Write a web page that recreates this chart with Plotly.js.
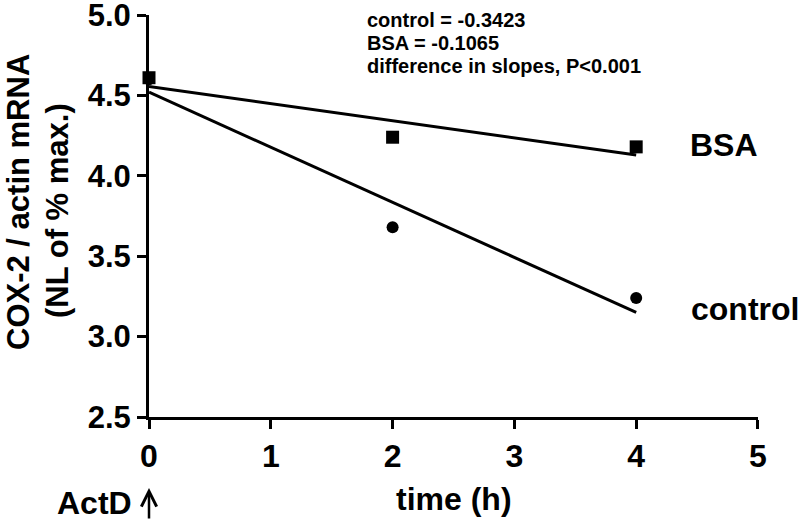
<!DOCTYPE html>
<html><head><meta charset="utf-8">
<script src="https://cdn.plot.ly/plotly-3.0.1.min.js"></script>
<style>body{margin:0;background:#fff}#chart{width:800px;height:520px}</style>
</head><body><div id="chart"></div>
<script>
// Data
const timeH = [0, 2, 4];
const controlValues = [4.60, 3.68, 3.24];
const bsaValues = [4.61, 4.24, 4.18];
const fitX = [0, 4];
const controlFit = [4.52, 3.15];
const bsaFit = [4.555, 4.13];
const xTicks = [0, 1, 2, 3, 4, 5];
const yTicks = [2.5, 3.0, 3.5, 4.0, 4.5, 5.0];
const slopeLines = ["control = -0.3423", "BSA = -0.1065", "difference in slopes, P<0.001"];

const F = "Liberation Sans, Arial, Helvetica, sans-serif";
const bold = (size) => ({size: size, family: F, weight: 700, color: "#000"});
const traces = [
  {x: fitX, y: controlFit, mode: "lines", line: {color: "#000", width: 3}, hoverinfo: "skip", cliponaxis: false},
  {x: fitX, y: bsaFit, mode: "lines", line: {color: "#000", width: 3}, hoverinfo: "skip", cliponaxis: false},
  {x: timeH, y: controlValues, mode: "markers", marker: {symbol: "circle", size: 12, color: "#000"}, cliponaxis: false},
  {x: timeH, y: bsaValues, mode: "markers", marker: {symbol: "square", size: 13, color: "#000"}, cliponaxis: false}
];
// pixel helpers for annotation placement (plot area 149..758 x, 15..417 y)
const TOP = 15, BOT = 417;
const px = (x) => (x - 149) / 609;
const py = (y) => (BOT - y) / (BOT - TOP);
const slopeY = [20, 43, 66];
const annotations = [
  {text: "COX-2 / actin mRNA", textangle: -90, xref: "paper", yref: "paper", x: px(18), y: py(202),
   xanchor: "center", yanchor: "middle", showarrow: false, font: bold(31)},
  {text: "(NL of % max.)", textangle: -90, xref: "paper", yref: "paper", x: px(57), y: py(211),
   xanchor: "center", yanchor: "middle", showarrow: false, font: bold(31)},
  {text: "time (h)", xref: "paper", yref: "paper", x: 0.5, y: py(499),
   xanchor: "center", yanchor: "middle", showarrow: false, font: bold(32)},
  {text: "ActD", xref: "paper", yref: "paper", x: px(134), y: py(503),
   xanchor: "right", yanchor: "middle", showarrow: false, font: bold(32)},
  {text: "", xref: "x", x: 0, yref: "paper", y: py(488), showarrow: true, arrowhead: 5,
   arrowsize: 1.2, arrowwidth: 2.5, arrowcolor: "#000", ax: 0, ay: 34, standoff: 0},
  {text: "BSA", xref: "paper", yref: "paper", x: px(724), y: py(145),
   xanchor: "center", yanchor: "middle", showarrow: false, font: bold(32)},
  {text: "control", xref: "paper", yref: "paper", x: px(745), y: py(309),
   xanchor: "center", yanchor: "middle", showarrow: false, font: bold(32)}
];
slopeLines.forEach((t, i) => annotations.push({
  text: t, xref: "paper", yref: "paper", x: px(365), y: py(slopeY[i]),
  xanchor: "left", yanchor: "middle", align: "left", showarrow: false, font: bold(20)
}));
const layout = {
  width: 800, height: 520,
  margin: {l: 149, r: 42, t: TOP, b: 520 - BOT},
  paper_bgcolor: "#fff", plot_bgcolor: "#fff",
  showlegend: false,
  font: {family: F, color: "#000", weight: 700},
  xaxis: {
    range: [0, 5.0001], tickvals: xTicks, ticktext: xTicks.map(String),
    showgrid: false, zeroline: false, showline: true, linewidth: 3, linecolor: "#000",
    ticks: "outside", ticklen: 9, tickwidth: 3, tickcolor: "#000",
    tickfont: bold(32), ticklabeloverflow: "allow"
  },
  yaxis: {
    range: [2.5, 5.0001], tickvals: yTicks, ticktext: yTicks.map(v => v.toFixed(1)),
    showgrid: false, zeroline: false, showline: true, linewidth: 3, linecolor: "#000",
    ticks: "outside", ticklen: 9, tickwidth: 3, tickcolor: "#000",
    tickfont: bold(31), ticklabeloverflow: "allow"
  },
  annotations: annotations
};
Plotly.newPlot("chart", traces, layout, {displayModeBar: false, staticPlot: true});
</script></body></html>
